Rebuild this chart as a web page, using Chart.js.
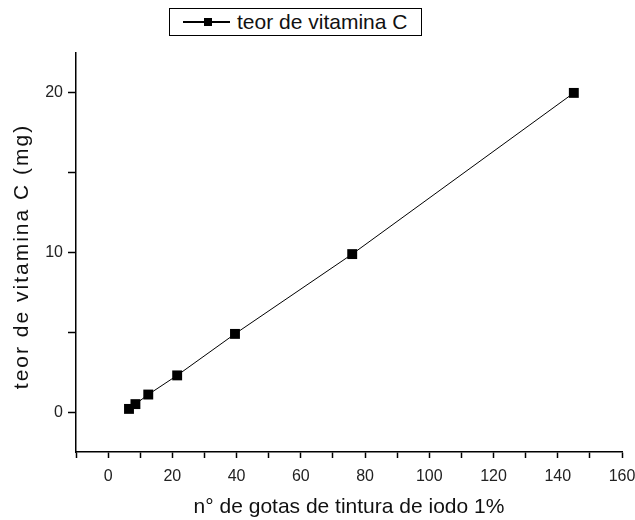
<!DOCTYPE html>
<html>
<head>
<meta charset="utf-8">
<script src="https://cdn.jsdelivr.net/npm/chart.js@4.4.0/dist/chart.umd.min.js"></script>
<style>
  html, body { margin: 0; padding: 0; background: #fff; }
  #wrap { position: relative; width: 635px; height: 520px; }
  #legend {
    position: absolute; left: 169px; top: 8px; width: 253px; height: 28px;
    border: 1.5px solid #000; box-sizing: border-box; background: #fff;
    font-family: "Liberation Sans", Arial, sans-serif; font-size: 21px; color: #111;
    display: flex; align-items: center; padding-left: 13px; white-space: nowrap;
  }
  #legend .sym { position: relative; flex: 0 0 47px; height: 12px; margin-right: 7px; }
  #legend .sym .ln { position: absolute; left: 0; right: 0; top: 5px; height: 1.5px; background: #000; }
  #legend .sym .sq { position: absolute; left: 21px; top: 2px; width: 8px; height: 8px; background: #000; }
</style>
</head>
<body>
<div id="wrap">
  <canvas id="chart" width="635" height="520"></canvas>
  <div id="legend"><span class="sym"><span class="ln"></span><span class="sq"></span></span><span>teor de vitamina C</span></div>
</div>
<script>
// data
const gotas = [6.5, 8.5, 12.5, 21.5, 39.5, 76, 145];
const vitaminaC = [0.2, 0.5, 1.1, 2.3, 4.9, 9.9, 20];
const xTickLabels = [0, 20, 40, 60, 80, 100, 120, 140, 160];
const yTicks = [0, 5, 10, 15, 20];
const yTickLabels = [0, 10, 20];
const yTitle = 'teor de vitamina C (mg)';

const points = gotas.map((g, i) => ({ x: g, y: vitaminaC[i] }));
const fontFam = '"Liberation Sans", Arial, sans-serif';

// y title drawn by hand, the original has wide letter spacing
const yTitlePlugin = {
    id: 'yTitle',
    afterDraw(chart) {
        const c = chart.ctx;
        const area = chart.chartArea;
        c.save();
        c.translate(22, (area.top + area.bottom) / 2 + 4);
        c.rotate(-Math.PI / 2);
        c.font = '21px ' + fontFam;
        c.letterSpacing = '2px';
        c.fillStyle = '#111';
        c.textAlign = 'center';
        c.textBaseline = 'middle';
        c.fillText(yTitle, 0, 0);
        c.restore();
    }
};

const ctx = document.getElementById('chart').getContext('2d');
new Chart(ctx, {
    type: 'scatter',
    data: {
        datasets: [{
            label: 'teor de vitamina C',
            data: points,
            showLine: true,
            borderColor: '#000',
            borderWidth: 1,
            backgroundColor: '#000',
            pointStyle: 'rect',
            pointRadius: 7,
            pointBorderWidth: 0
        }]
    },
    plugins: [yTitlePlugin],
    options: {
        responsive: false,
        animation: false,
        layout: { padding: { left: 0, right: 13, top: 53, bottom: 0 } },
        plugins: { legend: { display: false }, tooltip: { enabled: false } },
        scales: {
            x: {
                type: 'linear', min: -10, max: 160,
                border: { color: '#000', width: 1.5 },
                grid: { drawOnChartArea: false, tickLength: 6, tickColor: '#000', tickWidth: 1.5 },
                ticks: {
                    stepSize: 10, autoSkip: false, maxRotation: 0,
                    color: '#222', font: { family: fontFam, size: 16 }, padding: 9,
                    callback: v => xTickLabels.includes(v) ? String(v) : ''
                },
                title: { display: true, text: 'n° de gotas de tintura de iodo 1%', color: '#111',
                         font: { family: fontFam, size: 21 }, padding: { top: 10, bottom: 0 } },
                afterFit: s => { s.height = 68; s.paddingLeft = 0; s.paddingRight = 0; }
            },
            y: {
                type: 'linear', min: -2.5, max: 22.5,
                border: { color: '#000', width: 1.5 },
                grid: { drawOnChartArea: false, tickLength: 8, tickColor: '#000', tickWidth: 1.5 },
                afterBuildTicks: s => { s.ticks = yTicks.map(v => ({ value: v })); },
                ticks: {
                    autoSkip: false,
                    color: '#222', font: { family: fontFam, size: 16 }, padding: 5,
                    callback: v => yTickLabels.includes(v) ? String(v) : ''
                },
                afterFit: s => { s.width = 76; s.paddingTop = 0; s.paddingBottom = 0; }
            }
        }
    }
});
</script>
</body>
</html>
